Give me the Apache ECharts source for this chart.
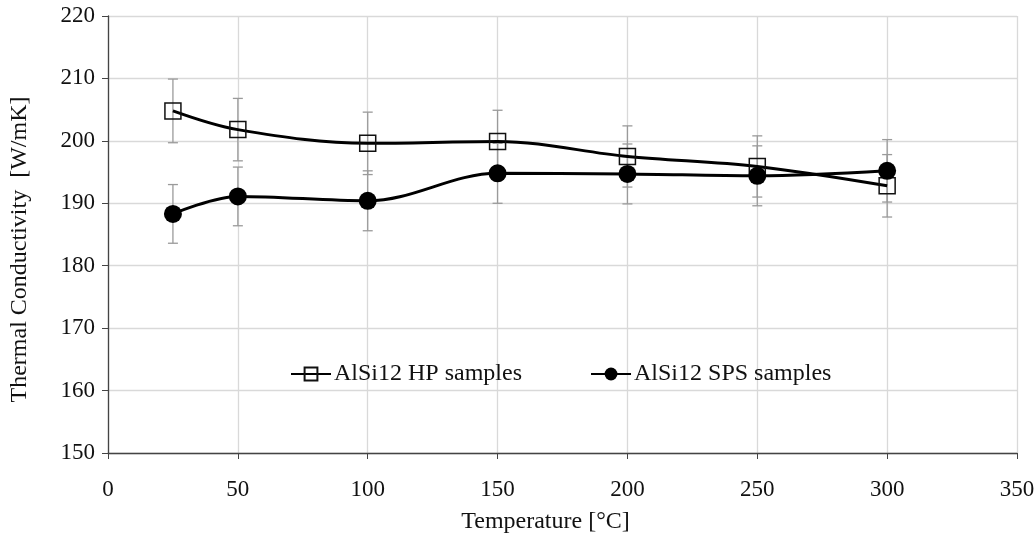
<!DOCTYPE html>
<html>
<head>
<meta charset="utf-8">
<script src="https://cdn.jsdelivr.net/npm/echarts@6/dist/echarts.min.js"></script>
<style>
html, body { margin: 0; padding: 0; background: #fff; }
#chart { width: 1035px; height: 537px; }
</style>
</head>
<body>
<div id="chart"></div>
<script>
var temps = [25, 50, 100, 150, 200, 250, 300];
var hpValues = [204.8, 201.8, 199.6, 199.9, 197.5, 195.9, 192.8];
var hpErrors = [5.1, 5.0, 5.0, 5.0, 4.9, 4.9, 5.0];
var spsValues = [188.3, 191.1, 190.4, 194.8, 194.7, 194.4, 195.2];
var spsErrors = [4.7, 4.7, 4.8, 4.8, 4.8, 4.8, 5.0];

var font = '"Liberation Serif", "Times New Roman", serif';

function pairs(xs, ys) {
	var out = []
	for (let i = 0; i < xs.length; i++) {
		out.push([xs[i], ys[i]])
	}
	return out
}

function errData(xs, ys, es) {
	var out = []
	for (let i = 0; i < xs.length; i++) {
		out.push([xs[i], ys[i] - es[i], ys[i] + es[i]])
	}
	return out
}

function renderErr(params, api) {
	var lo = api.coord([api.value(0), api.value(1)])
	var hi = api.coord([api.value(0), api.value(2)])
	var w = 5
	var style = { stroke: '#9a9a9a', lineWidth: 1.3 }
	return {
		type: 'group',
		children: [
			{ type: 'line', shape: { x1: lo[0], y1: lo[1], x2: hi[0], y2: hi[1] }, style: style },
			{ type: 'line', shape: { x1: lo[0] - w, y1: lo[1], x2: lo[0] + w, y2: lo[1] }, style: style },
			{ type: 'line', shape: { x1: hi[0] - w, y1: hi[1], x2: hi[0] + w, y2: hi[1] }, style: style }
		]
	}
}

var mychart = echarts.init(document.getElementById('chart'));
var option = {
	backgroundColor: '#fff',
	animation: false,
	textStyle: { fontFamily: font },
	grid: { left: 108, right: 18, top: 16, bottom: 84, outerBoundsMode: 'none' },
	legend: {
		data: ['AlSi12 HP samples', 'AlSi12 SPS samples'],
		left: 290,
		top: 362,
		itemWidth: 40,
		itemHeight: 16,
		itemGap: 68,
		textStyle: { fontFamily: font, fontSize: 24, color: '#111', padding: [0, 0, 0, -2] },
		padding: 0
	},
	xAxis: {
		type: 'value',
		min: 0,
		max: 350,
		interval: 50,
		name: 'Temperature [°C]',
		nameLocation: 'middle',
		nameGap: 57,
		nameTextStyle: { fontFamily: font, fontSize: 24, color: '#111', padding: [0, 34, 0, 0] },
		axisLine: { lineStyle: { color: '#444', width: 1.3 } },
		axisTick: { show: true, length: 6, lineStyle: { color: '#444' } },
		axisLabel: { fontFamily: font, fontSize: 23, color: '#111', margin: 25 },
		splitLine: { show: true, lineStyle: { color: '#d9d9d9', width: 1.3 } }
	},
	yAxis: {
		type: 'value',
		min: 150,
		max: 220,
		interval: 10,
		name: 'Thermal Conductivity  [W/mK]',
		nameLocation: 'middle',
		nameGap: 76,
		nameTextStyle: { fontFamily: font, fontSize: 24, color: '#111', padding: [0, 30, 0, 0] },
		axisLine: { show: true, lineStyle: { color: '#444', width: 1.3 } },
		axisTick: { show: true, length: 6, lineStyle: { color: '#444' } },
		axisLabel: { fontFamily: font, fontSize: 23, color: '#111', margin: 13 },
		splitLine: { show: true, lineStyle: { color: '#d9d9d9', width: 1.3 } }
	},
	series: [
		{
			type: 'custom',
			name: 'hpErr',
			renderItem: renderErr,
			data: errData(temps, hpValues, hpErrors),
			z: 1,
			silent: true
		},
		{
			type: 'custom',
			name: 'spsErr',
			renderItem: renderErr,
			data: errData(temps, spsValues, spsErrors),
			z: 1,
			silent: true
		},
		{
			type: 'line',
			name: 'AlSi12 HP samples',
			data: pairs(temps, hpValues),
			smooth: 0.35,
			symbol: 'rect',
			symbolSize: 16,
			lineStyle: { color: '#000', width: 3 },
			itemStyle: { color: 'rgba(255,255,255,0)', borderColor: '#111', borderWidth: 1.5 },
			z: 3
		},
		{
			type: 'line',
			name: 'AlSi12 SPS samples',
			data: pairs(temps, spsValues),
			smooth: 0.35,
			symbol: 'circle',
			symbolSize: 18,
			lineStyle: { color: '#000', width: 3 },
			itemStyle: { color: '#000', borderColor: '#000', borderWidth: 0 },
			z: 3
		}
	]
};
mychart.setOption(option);
</script>
</body>
</html>
